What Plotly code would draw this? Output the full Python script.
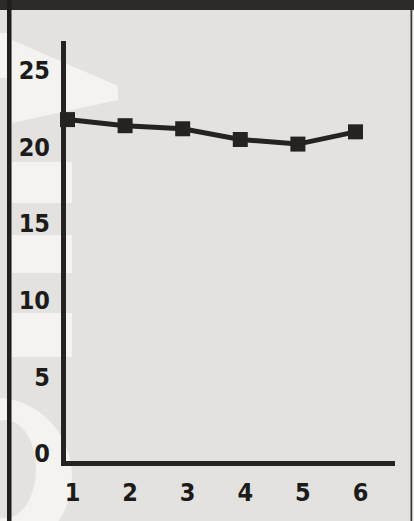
import plotly.graph_objects as go

# ---- data ----
x_values = [1, 2, 3, 4, 5, 6]
y_values = [21.8, 21.4, 21.2, 20.5, 20.2, 21.0]
y_ticks = [0, 5, 10, 15, 20, 25]
x_ticks = [1, 2, 3, 4, 5, 6]

W, H = 414, 521
L, R, T, B = 66, 395, 41, 461  # plot area in pixels

def px(xp):
    return (xp - L) / (R - L)

def py(yp):
    return (B - yp) / (B - T)

INK = "#242322"
BG = "#e3e2df"
LIGHT = "#f4f3f0"
FONT = "DejaVu Sans Condensed, Liberation Sans Narrow, Arial Narrow, sans-serif"

fig = go.Figure()
fig.add_trace(go.Scatter(
    x=x_values, y=y_values, mode="lines+markers",
    line=dict(color=INK, width=5),
    marker=dict(symbol="square", size=15, color=INK),
    cliponaxis=False, showlegend=False, hoverinfo="skip",
))

shapes = []
def rect(x0, y0, x1, y1, color, layer="below"):
    shapes.append(dict(type="rect", xref="paper", yref="paper",
                       x0=px(x0), x1=px(x1), y0=py(y1), y1=py(y0),
                       fillcolor=color, line=dict(width=0), layer=layer))

def poly(points, color, layer="below"):
    d = "M " + " L ".join(f"{px(a):.5f},{py(b):.5f}" for a, b in points) + " Z"
    shapes.append(dict(type="path", xref="paper", yref="paper", path=d,
                       fillcolor=color, line=dict(width=0), layer=layer))

def ellipse(x0, y0, x1, y1, color, layer="below"):
    shapes.append(dict(type="circle", xref="paper", yref="paper",
                       x0=px(x0), x1=px(x1), y0=py(y1), y1=py(y0),
                       fillcolor=color, line=dict(width=0), layer=layer))

# faint background page shapes
poly([(12, 40), (118, 86), (118, 100), (12, 123)], LIGHT)
rect(0, 33, 7, 78, LIGHT)
rect(12, 162, 72, 203, LIGHT)
rect(12, 235, 72, 273, LIGHT)
rect(12, 313, 72, 357, LIGHT)
ellipse(-80, 398, 72, 555, LIGHT)
ellipse(-25, 420, 36, 518, BG)

# frame
rect(0, 0, W, 10, "#2c2b2a", layer="above")
rect(7, 0, 11.5, H, "#1f1e1d", layer="above")
rect(410.5, 10, 412.5, H, "#3a3937", layer="above")
rect(412.5, 10, W, H, "#f6f5f3", layer="above")

fig.update_layout(
    template="none",
    width=W, height=H,
    margin=dict(l=L, r=W - R, t=T, b=H - B, pad=0),
    paper_bgcolor=BG, plot_bgcolor="rgba(0,0,0,0)",
    shapes=shapes,
    font=dict(family=FONT, size=25, color="#1c1b1a"),
)
fig.update_xaxes(
    automargin=False,
    range=[0.974, 6.686], tickvals=x_ticks, ticktext=[str(v) for v in x_ticks],
    showgrid=False, zeroline=False, showline=True, linewidth=5, linecolor=INK,
    ticks="", ticklabelshift=5, ticklabelstandoff=5,
    tickfont=dict(family=FONT, size=25, weight="bold", color="#1c1b1a"),
)
fig.update_yaxes(
    automargin=False,
    range=[-0.49, 26.93], tickvals=y_ticks, ticktext=[str(v) for v in y_ticks],
    showgrid=False, zeroline=False, showline=True, linewidth=5, linecolor=INK,
    ticks="", ticklabelstandoff=6,
    tickfont=dict(family=FONT, size=25, weight="bold", color="#1c1b1a"),
)

fig.write_html(
    "out.html",
    config={"displayModeBar": False, "responsive": False},
    post_script="document.body.style.margin='0';document.body.style.padding='0';document.body.style.overflow='hidden';",
)
